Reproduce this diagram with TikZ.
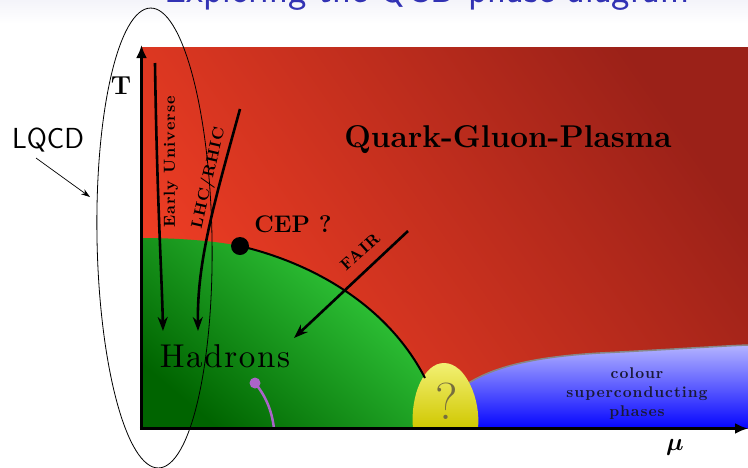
\documentclass[tikz,border=0pt]{standalone}
\usepackage{amsmath}
\usepackage{fontspec}
\usetikzlibrary{arrows.meta}
\newfontfamily\lbl{lmroman10-bold.otf}[LetterSpace=6]
\newfontfamily\lrg{lmroman10-regular.otf}[LetterSpace=5]
\definecolor{redA}{RGB}{240,62,36}
\definecolor{redB}{RGB}{155,33,24}
\definecolor{grnA}{RGB}{55,212,65}
\definecolor{grnB}{RGB}{0,100,0}
\definecolor{yelA}{RGB}{242,240,115}
\definecolor{yelB}{RGB}{208,200,0}
\definecolor{bluA}{RGB}{180,180,255}
\definecolor{bluB}{RGB}{5,5,255}
\definecolor{titleblue}{RGB}{50,50,180}
\definecolor{qgray}{RGB}{118,110,62}
\definecolor{purp}{RGB}{170,100,200}
\definecolor{navy}{RGB}{25,25,55}
\definecolor{bordergray}{RGB}{135,135,135}
\definecolor{topbg}{RGB}{244,244,250}
\begin{document}
\begin{tikzpicture}[x=1pt,y=-1pt,
  lab/.style={font=\lbl\fontsize{16}{19}\selectfont, inner sep=0pt},
  big/.style={line width=2.6pt, -{Stealth[length=14pt,width=10pt]}},
  axisline/.style={line width=3.2pt, -{Latex[length=13pt,width=11pt]}},
  thinarrow/.style={line width=0.7pt, -{Stealth[length=9pt,width=6pt]}}]
\clip (0,0) rectangle (748,467);
\shade[top color=topbg, bottom color=white] (0,0) rectangle (748,24);
% title
\node[font=\sffamily\fontsize{39}{44}\selectfont, text=titleblue, anchor=base, inner sep=0pt] (title) at (427,2) {Exploring the QCD phase diagram};
% coordinates
\coordinate (O) at (141.5,428.5);
\coordinate (Ttop) at (141.5,45);
\coordinate (Mend) at (748,428.5);
% red plasma
\shade[top color=redB, bottom color=redA, shading angle=-55] (141.5,47) rectangle (748,428.5);
% green hadron region
\shade[top color=grnA, bottom color=grnB, shading angle=-40]
  (141.5,238) .. controls (180,238) and (215,241) .. (240,246)
  .. controls (320,265) and (390,310) .. (425,378)
  .. controls (432,392) and (437,410) .. (440,428.5) -- (141.5,428.5) -- cycle;
% blue colour superconducting region
\shade[top color=bluA, bottom color=bluB]
  (462,388) .. controls (490,368) and (530,357) .. (600,353)
  .. controls (680,349) and (720,346) .. (748,345) -- (748,428.5) -- (462,428.5) -- cycle;
\draw[bordergray, line width=1.5pt] (464,386) .. controls (490,368) and (530,357) .. (600,353)
  .. controls (680,349) and (720,346) .. (748,345);
% yellow egg
\shade[top color=yelA, bottom color=yelB]
  (413,428.5) .. controls (410,395) and (424,363) .. (444,363)
  .. controls (466,363) and (481,400) .. (478,428.5) -- cycle;
\node[font=\fontsize{52}{56}\selectfont, text=qgray, inner sep=0pt] (qm) at (447,401) {?};
% CEP and boundary
\node[circle, fill=black, minimum size=18pt, inner sep=0pt] (cep) at (240,246) {};
\draw[line width=2pt] (cep.center) .. controls (320,265) and (390,310) .. (425,378);
% purple line
\node[circle, fill=purp, minimum size=11pt, inner sep=0pt] (pdot) at (255,383) {};
\coordinate (pend) at (274,429);
\draw[purp, line width=2.5pt] (pdot.center) .. controls (265,395) and (272,410) .. (pend);
% axes
\draw[axisline] (O) -- (Ttop);
\draw[axisline] ([xshift=-1.6pt]O) -- (Mend);
\node[font=\bfseries\fontsize{26}{28}\selectfont, inner sep=0pt] (T) at (121,86) {T};
\node[font=\fontsize{24}{26}\selectfont, inner sep=0pt] (mulab) at (675,447) {$\boldsymbol{\mu}$};
% trajectories
\coordinate (eu0) at (155,63);
\coordinate (eu1) at (163,331);
\draw[big] (eu0) .. controls (157,200) and (162,280) .. (eu1);
\coordinate (lhc0) at (240,109);
\coordinate (lhc1) at (198,331);
\draw[big] (lhc0) .. controls (215,200) and (197,260) .. (lhc1);
\coordinate (fair0) at (408,231);
\coordinate (fair1) at (294,338);
\draw[big] (fair0) -- (fair1);
% labels
\node[lab, rotate=90] (eu) at (171,162) {Early Universe};
\node[lab, rotate=77] (lhc) at (209,178) {LHC/RHIC};
\node[lab, rotate=42] (fair) at (360,252) {FAIR};
\node[font=\bfseries\fontsize{24}{26}\selectfont, anchor=base, inner sep=0pt] (ceplab) at (293,232) {CEP ?};
\node[font=\bfseries\fontsize{31.5}{34}\selectfont, anchor=base, inner sep=0pt] (qgp) at (508,147) {Quark-Gluon-Plasma};
\node[font=\lrg\fontsize{33}{36}\selectfont, anchor=base, inner sep=0pt] (had) at (225,367) {Hadrons};
\node[text=navy, align=center, inner sep=0pt, font=\lbl\fontsize{15.5}{19}\selectfont] (csc) at (637,394) {colour\\superconducting\\phases};
% LQCD ellipse
\draw[line width=0.8pt, rotate around={1:(154.5,238)}] (154.5,238) ellipse [x radius=57.5, y radius=230];
\node[font=\sffamily\fontsize{29}{32}\selectfont, inner sep=0pt] (lqcd) at (48,140) {LQCD};
\coordinate (lq0) at (36,158);
\coordinate (lq1) at (90,197);
\draw[thinarrow] (lq0) -- (lq1);
\end{tikzpicture}
\end{document}
